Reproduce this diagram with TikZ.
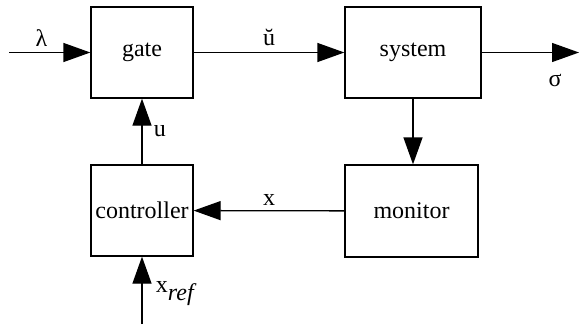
\documentclass[tikz,border=0pt]{standalone}
\usepackage{fontspec}
\setmainfont{Liberation Serif}
\usetikzlibrary{arrows.meta,positioning}

\begin{document}
\begin{tikzpicture}[x=1pt,y=-1pt,line width=1.3pt,
        blk/.style={draw,minimum width=102pt,minimum height=91pt,inner sep=0pt},
        flow/.style={-{Triangle[length=27pt,width=19pt]}},
        every node/.style={font=\fontsize{24}{28}\selectfont}]
        \useasboundingbox (0,0) rectangle (581,324);
        \node[blk] (gate) at (142,52.5) {gate};
        \node[blk,minimum width=136pt] (system) at (413,52.5) {system};
        \node[blk,minimum width=133pt,minimum height=92pt] (monitor) at (411.5,211) {monitor};
        \node[blk] (controller) at (142,210.5) {controller};
        \coordinate (lamin) at (9,52.5);
        \coordinate (sigout) at (579,52.5);
        \coordinate (xrefin) at (142,324);
        \draw[flow] (lamin) -- (gate) node[pos=0.4,above=2pt] (lamlab) {λ};
        \draw[flow] (gate) -- (system) node[midway,above=3pt] (ubrlab) {ŭ};
        \draw[flow] (system) -- (sigout);
        \node (siglab) at (555,80) {σ};
        \draw[flow] (system) -- (system |- monitor.north);
        \draw[flow] (monitor) -- (controller) node[midway,above=1pt] (xlab) {x};
        \draw[flow] (controller) -- (gate) node[midway,right=8pt] (ulab) {u};
        \draw[flow] (xrefin) -- (controller) node[pos=0.45,right=10pt] (xreflab) {x$_{\textit{ref}}$};
    \end{tikzpicture}
\end{document}
